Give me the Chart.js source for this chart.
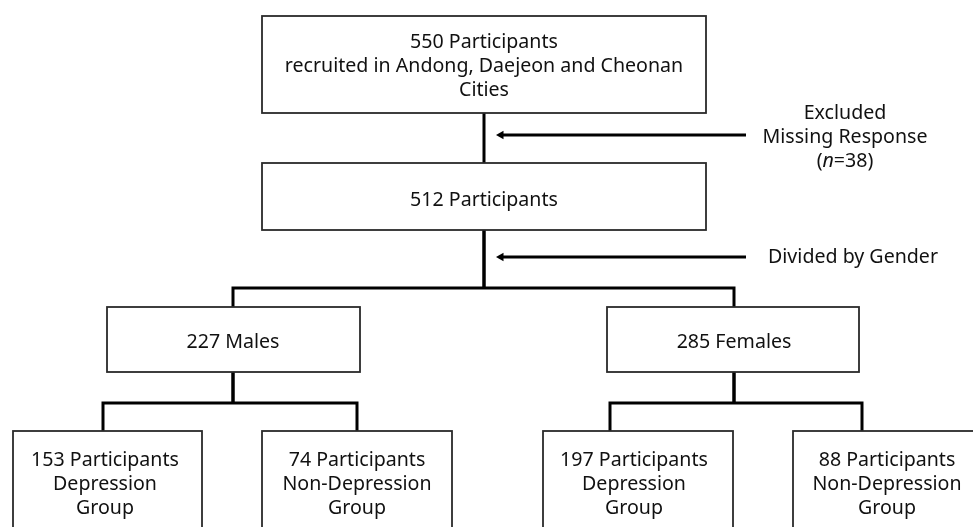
<!DOCTYPE html>
<html>
<head>
<meta charset="utf-8">
<script src="https://cdn.jsdelivr.net/npm/chart.js@4"></script>
<style>
  html, body { margin: 0; padding: 0; background: #ffffff; }
  #wrap { width: 973px; height: 527px; }
</style>
</head>
<body>
<div id="wrap"><canvas id="c" width="973" height="527"></canvas></div>
<script>
// ---- data ----
const nodeIds      = ["all", "valid", "male", "female", "maleDep", "maleNon", "femDep", "femNon"];
const nodeCounts   = [550, 512, 227, 285, 153, 74, 197, 88];
const nodeNouns    = ["Participants", "Participants", "Males", "Females", "Participants", "Participants", "Participants", "Participants"];
const nodeExtra    = [["recruited in Andong, Daejeon and Cheonan", "Cities"], [], [], [], ["Depression", "Group"], ["Non-Depression", "Group"], ["Depression", "Group"], ["Non-Depression", "Group"]];
const excludedCount = 38;
const excludedNote  = ["Excluded", "Missing Response"];
const splitNote     = "Divided by Gender";
const edges         = [["all", "valid"], ["valid", "male"], ["valid", "female"], ["male", "maleDep"], ["male", "maleNon"], ["female", "femDep"], ["female", "femNon"]];

// ---- layout (diagram geometry, in canvas units) ----
const layout = {
  all:     { x0: 262, x1: 706, y0: 16,  y1: 113, ty: 66.5, cx: 484 },
  valid:   { x0: 262, x1: 706, y0: 163, y1: 230, ty: 200, cx: 484 },
  male:    { x0: 107, x1: 360, y0: 307, y1: 372, ty: 342, cx: 233 },
  female:  { x0: 607, x1: 859, y0: 307, y1: 372, ty: 342, cx: 734 },
  maleDep: { x0: 13,  x1: 202, y0: 431, y1: 545, ty: 484, cx: 105, port: 103 },
  maleNon: { x0: 262, x1: 452, y0: 431, y1: 545, ty: 484, cx: 357, port: 357 },
  femDep:  { x0: 543, x1: 733, y0: 431, y1: 545, ty: 484, cx: 634, port: 610 },
  femNon:  { x0: 793, x1: 983, y0: 431, y1: 545, ty: 484, cx: 887, port: 862 }
};
const busY = { valid: 288, male: 403, female: 403 };
const arrowRows = [135, 257];
const arrowFromX = 746, arrowTipX = 496;
const noteX = 845, noteX2 = 853, noteY1 = 137, noteY2 = 257, lineGap = 24;
const FONT = '"Noto Sans", "Open Sans", sans-serif';
const FS = 19.6;

// ---- connector datasets built from edges ----
const datasets = [];
const lineStyle = { showLine: true, borderColor: '#000', borderWidth: 3, pointRadius: 0, borderCapStyle: 'butt', borderJoinStyle: 'miter', tension: 0 };
edges.forEach(([from, to]) => {
  const a = layout[from], b = layout[to];
  const bx = b.port !== undefined ? b.port : b.cx;
  const by = busY[from];
  if (by === undefined) {
    datasets.push(Object.assign({ data: [{ x: a.cx, y: a.y1 }, { x: bx, y: b.y0 }] }, lineStyle));
    return;
  }
  datasets.push(Object.assign({ data: [{ x: a.cx, y: a.y1 }, { x: a.cx, y: by }] }, lineStyle));
  datasets.push(Object.assign({ data: [{ x: a.cx, y: by }, { x: bx, y: by }, { x: bx, y: b.y0 }] }, lineStyle));
});
arrowRows.forEach(y => {
  datasets.push(Object.assign({}, lineStyle, {
    data: [{ x: arrowTipX + 5, y: y }, { x: arrowFromX, y: y }],
    pointRadius: [5, 0], pointStyle: 'triangle', pointRotation: -90,
    pointBackgroundColor: '#000', pointBorderColor: '#000', pointBorderWidth: 0
  }));
});

const boxPlugin = {
  id: 'boxes',
  beforeDraw(chart) {
    const ctx = chart.ctx;
    ctx.save(); ctx.fillStyle = '#fff'; ctx.fillRect(0, 0, chart.width, chart.height); ctx.restore();
  },
  afterDatasetsDraw(chart) {
    const ctx = chart.ctx, sx = chart.scales.x, sy = chart.scales.y;
    ctx.save();
    nodeIds.forEach((id, i) => {
      const L = layout[id];
      const x0 = sx.getPixelForValue(L.x0), x1 = sx.getPixelForValue(L.x1);
      const y0 = sy.getPixelForValue(L.y0), y1 = sy.getPixelForValue(L.y1);
      ctx.fillStyle = '#fff';
      ctx.fillRect(x0, y0, x1 - x0, y1 - y0);
      ctx.strokeStyle = '#2a2a2a';
      ctx.lineWidth = 1.8;
      ctx.strokeRect(x0, y0, x1 - x0, y1 - y0);
      const lines = [nodeCounts[i] + ' ' + nodeNouns[i]].concat(nodeExtra[i]);
      ctx.fillStyle = '#111';
      ctx.font = FS + 'px ' + FONT;
      ctx.textAlign = 'center';
      ctx.textBaseline = 'middle';
      const cx = sx.getPixelForValue(L.cx);
      const start = sy.getPixelForValue(L.ty) - (lines.length - 1) * lineGap / 2;
      lines.forEach((t, k) => ctx.fillText(t, cx, start + k * lineGap));
    });
    // side notes
    ctx.fillStyle = '#111';
    ctx.font = FS + 'px ' + FONT;
    ctx.textAlign = 'center';
    ctx.textBaseline = 'middle';
    const nx = sx.getPixelForValue(noteX);
    const r0 = sy.getPixelForValue(noteY1);
    ctx.fillText(excludedNote[0], nx, r0 - lineGap);
    ctx.fillText(excludedNote[1], nx, r0);
    // (n=38) with italic n
    const p1 = '(', p2 = 'n', p3 = '=' + excludedCount + ')';
    ctx.font = FS + 'px ' + FONT;
    const w1 = ctx.measureText(p1).width, w3 = ctx.measureText(p3).width;
    ctx.font = 'italic ' + FS + 'px ' + FONT;
    const w2 = ctx.measureText(p2).width;
    let xs = nx - (w1 + w2 + w3) / 2;
    const yN = r0 + lineGap;
    ctx.textAlign = 'left';
    ctx.font = FS + 'px ' + FONT; ctx.fillText(p1, xs, yN); xs += w1;
    ctx.font = 'italic ' + FS + 'px ' + FONT; ctx.fillText(p2, xs, yN); xs += w2;
    ctx.font = FS + 'px ' + FONT; ctx.fillText(p3, xs, yN);
    ctx.textAlign = 'center';
    ctx.fillText(splitNote, sx.getPixelForValue(noteX2), sy.getPixelForValue(noteY2));
    ctx.restore();
  }
};

new Chart(document.getElementById('c'), {
  type: 'scatter',
  data: { datasets: datasets },
  options: {
    responsive: false,
    animation: false,
    events: [],
    layout: { padding: 0, autoPadding: false },
    plugins: { legend: { display: false }, tooltip: { enabled: false } },
    scales: {
      x: { type: 'linear', min: 0, max: 973, display: false },
      y: { type: 'linear', min: 0, max: 527, reverse: true, display: false }
    }
  },
  plugins: [boxPlugin]
});
</script>
</body>
</html>
